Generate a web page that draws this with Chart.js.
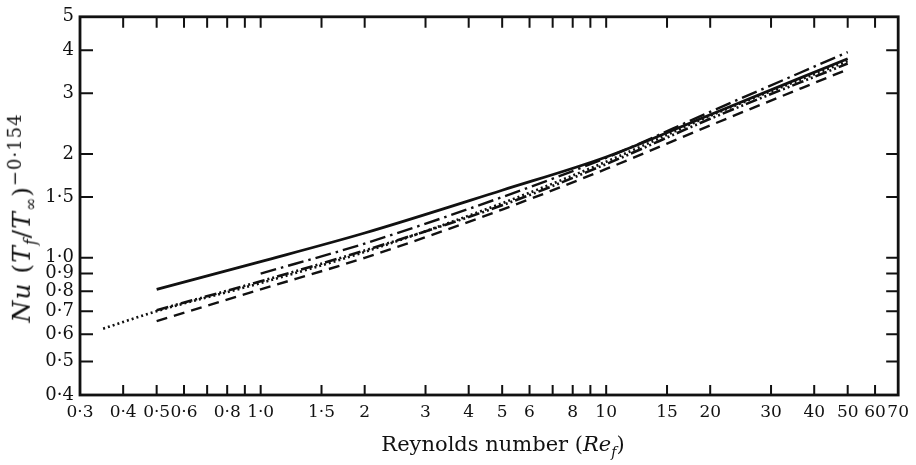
<!DOCTYPE html>
<html>
<head>
<meta charset="utf-8">
<script src="https://cdn.jsdelivr.net/npm/chart.js@4.4.1/dist/chart.umd.min.js"></script>
<style>
  body { margin: 0; background: #fff; }
  #wrap { position: relative; width: 916px; height: 465px; }
  .ttl { position: absolute; font-family: "DejaVu Serif", serif; font-size: 21px; color: #111; white-space: nowrap; }
  #ytitle { left: 22px; top: 218px; font-size: 25px; letter-spacing: 1px; transform: translate(-50%, -50%) rotate(-90deg); }
  #ytitle sub { font-size: 16px; }
  #ytitle sup { font-size: 18px; }
  #xtitle { left: 503px; top: 446px; transform: translate(-50%, -50%); }
  #xtitle sub { font-size: 14px; }
</style>
</head>
<body>
<div id="wrap">
  <canvas id="myChart" width="916" height="465"></canvas>
  <div class="ttl" id="ytitle"><i>Nu</i> (<i>T</i><sub><i>f</i></sub>/<i>T</i><sub>∞</sub>)<sup>−0·154</sup></div>
  <div class="ttl" id="xtitle">Reynolds number (<i>Re</i><sub><i>f</i></sub>)</div>
</div>
<script>
// values
let reMain = [0.5, 1, 2, 5, 10, 20, 50];
let solidNu = [0.81, 0.975, 1.18, 1.57, 1.96, 2.6, 3.78];
let dashDotDotNu = [0.705, 0.855, 1.05, 1.42, 1.87, 2.53, 3.66];
let dashedNu = [0.655, 0.81, 1.0, 1.38, 1.81, 2.42, 3.52];

let reDashDot = [1, 2, 5, 10, 20, 50];
let dashDotNu = [0.90, 1.10, 1.50, 1.95, 2.65, 3.95];

let reDotted = [0.35, 0.5, 1, 2, 5, 10, 20, 50];
let dottedNu = [0.623, 0.70, 0.845, 1.04, 1.44, 1.90, 2.58, 3.72];

let xTicks = [0.3, 0.4, 0.5, 0.6, 0.7, 0.8, 0.9, 1, 1.5, 2, 3, 4, 5, 6, 7, 8, 9, 10, 15, 20, 30, 40, 50, 60, 70];
let xTickLabels = ['0·3', '0·4', '0·5', '0·6', '', '0·8', '', '1·0', '1·5', '2', '3', '4', '5', '6', '', '8', '', '10', '15', '20', '30', '40', '50', '60', '70'];
let yTicks = [0.4, 0.5, 0.6, 0.7, 0.8, 0.9, 1, 1.5, 2, 3, 4, 5];
let yTickLabels = ['0·4', '0·5', '0·6', '0·7', '0·8', '0·9', '1·0', '1·5', '2', '3', '4', '5'];

let pts = (xs, ys) => xs.map((x, i) => ({ x: x, y: ys[i] }));

let line = (data, dash, width) => ({
  data: data,
  showLine: true,
  borderColor: '#111',
  borderWidth: width,
  borderDash: dash,
  pointRadius: 0,
  tension: 0.4,
  cubicInterpolationMode: 'monotone',
  fill: false
});

// frame + inward tick marks on all four sides
let frame = {
  id: 'frame',
  afterDraw(chart) {
    let { ctx, chartArea: a, scales } = chart;
    ctx.save();
    ctx.strokeStyle = '#111';
    ctx.lineWidth = 2;
    ctx.beginPath();
    xTicks.forEach(v => {
      let px = scales.x.getPixelForValue(v);
      if (px <= a.left + 1 || px >= a.right - 1) return;
      ctx.moveTo(px, a.bottom); ctx.lineTo(px, a.bottom - 10);
      ctx.moveTo(px, a.top); ctx.lineTo(px, a.top + 11);
    });
    yTicks.forEach(v => {
      let py = scales.y.getPixelForValue(v);
      if (py <= a.top + 1 || py >= a.bottom - 1) return;
      ctx.moveTo(a.left, py); ctx.lineTo(a.left + 13, py);
      ctx.moveTo(a.right, py); ctx.lineTo(a.right - 12, py);
    });
    ctx.stroke();
    ctx.lineWidth = 2.8;
    ctx.strokeRect(a.left, a.top, a.right - a.left, a.bottom - a.top);
    ctx.restore();
  }
};

let myChart = new Chart(document.getElementById('myChart').getContext('2d'), {
  type: 'scatter',
  data: {
    datasets: [
      line(pts(reMain, solidNu), [], 2.8),
      line(pts(reDashDot, dashDotNu), [16, 5, 2.5, 5], 2.4),
      line(pts(reMain, dashDotDotNu), [12, 3, 2, 3, 2, 3], 2.6),
      line(pts(reDotted, dottedNu), [2, 3], 2.6),
      line(pts(reMain, dashedNu), [11, 7], 2.4)
    ]
  },
  options: {
    responsive: false,
    animation: false,
    layout: { padding: { top: 14, right: 16, left: 0, bottom: 0 } },
    plugins: { legend: { display: false }, tooltip: { enabled: false } },
    scales: {
      x: {
        type: 'logarithmic',
        min: 0.3,
        max: 70,
        grid: { display: false, drawTicks: false },
        border: { display: false },
        afterBuildTicks: (scale) => { scale.ticks = xTicks.map(v => ({ value: v })); },
        afterFit: (scale) => { scale.height = 70; },
        ticks: {
          autoSkip: false,
          maxRotation: 0,
          padding: 7,
          color: '#111',
          font: { family: 'DejaVu Serif', size: 17 },
          callback: (value, index) => xTickLabels[index]
        }
      },
      y: {
        type: 'logarithmic',
        min: 0.4,
        max: 5,
        grid: { display: false, drawTicks: false },
        border: { display: false },
        afterBuildTicks: (scale) => { scale.ticks = yTicks.map(v => ({ value: v })); },
        afterFit: (scale) => { scale.width = 80; },
        ticks: {
          autoSkip: false,
          padding: 6,
          color: '#111',
          font: { family: 'DejaVu Serif', size: 18 },
          callback: (value, index) => yTickLabels[index]
        }
      }
    }
  },
  plugins: [frame]
});
</script>
</body>
</html>
